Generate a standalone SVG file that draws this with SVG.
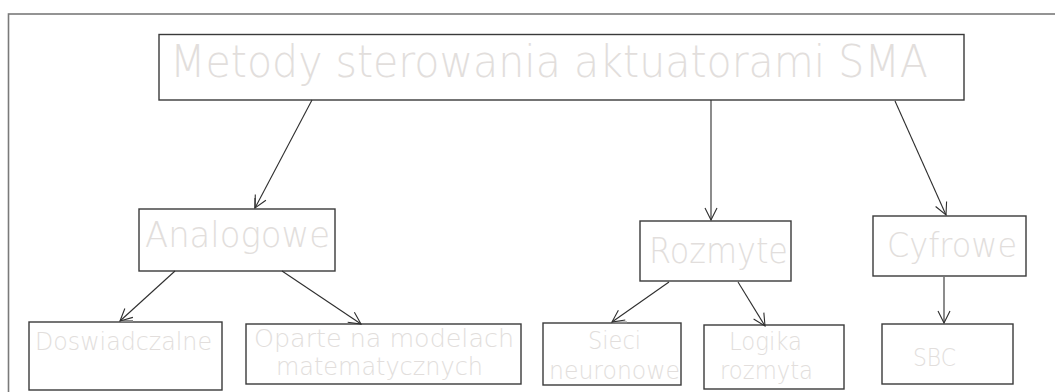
<svg xmlns="http://www.w3.org/2000/svg" width="1055" height="392" viewBox="0 0 1055 392">
<style>
.frame{fill:none;stroke:#7a7a7a;stroke-width:1.6}
.box{fill:#ffffff;stroke:#3a3a3a;stroke-width:1.4}
.t{font-family:"DejaVu Sans","Liberation Sans",sans-serif;font-weight:300;fill:#e2dedc}
.c{fill:none;stroke:#2e2e2e;stroke-width:1.1}
.tick{stroke:#8a8a8a;stroke-width:2}
</style>
<defs>
<marker id="arr" viewBox="0 0 14 14" refX="13" refY="7" markerWidth="14" markerHeight="14" markerUnits="userSpaceOnUse" orient="auto">
<path d="M1,1 L13,7 L1,13" fill="none" stroke="#2e2e2e" stroke-width="1.1"/>
</marker>
</defs>
<rect class="frame" x="8.5" y="14" width="1060" height="400"/>
<g id="n-main">
<rect class="box" x="159" y="34.5" width="805" height="65.5"/>
<text class="t" x="170" y="77" font-size="44" textLength="758" lengthAdjust="spacingAndGlyphs">Metody sterowania aktuatorami SMA</text>
</g>
<g id="n-analogowe">
<rect class="box" x="139" y="209" width="196" height="62"/>
<text class="t" x="145" y="247" font-size="35" textLength="185" lengthAdjust="spacingAndGlyphs">Analogowe</text>
</g>
<g id="n-rozmyte">
<rect class="box" x="640" y="221" width="151" height="60"/>
<text class="t" x="649" y="263" font-size="36" textLength="139" lengthAdjust="spacingAndGlyphs">Rozmyte</text>
</g>
<g id="n-cyfrowe">
<rect class="box" x="873" y="216" width="153" height="60"/>
<text class="t" x="887" y="257" font-size="34" textLength="130" lengthAdjust="spacingAndGlyphs">Cyfrowe</text>
</g>
<g id="n-dosw">
<rect class="box" x="29" y="322" width="193" height="68"/>
<text class="t" x="35" y="350" font-size="24" textLength="177" lengthAdjust="spacingAndGlyphs">Doswiadczalne</text>
</g>
<g id="n-oparte">
<rect class="box" x="246" y="324" width="275" height="60"/>
<text class="t" x="254" y="347" font-size="24" textLength="260" lengthAdjust="spacingAndGlyphs">Oparte na modelach</text>
<text class="t" x="276" y="375" font-size="24" textLength="207" lengthAdjust="spacingAndGlyphs">matematycznych</text>
</g>
<g id="n-sieci">
<rect class="box" x="543" y="323" width="138" height="62"/>
<text class="t" x="588" y="349" font-size="24" textLength="53" lengthAdjust="spacingAndGlyphs">Sieci</text>
<text class="t" x="549" y="379" font-size="24" textLength="131" lengthAdjust="spacingAndGlyphs">neuronowe</text>
</g>
<g id="n-logika">
<rect class="box" x="704" y="325" width="140" height="64"/>
<text class="t" x="729" y="350" font-size="24" textLength="73" lengthAdjust="spacingAndGlyphs">Logika</text>
<text class="t" x="720" y="379" font-size="24" textLength="93" lengthAdjust="spacingAndGlyphs">rozmyta</text>
</g>
<g id="n-sbc">
<rect class="box" x="882" y="324" width="131" height="60"/>
<text class="t" x="913" y="366" font-size="24" textLength="43" lengthAdjust="spacingAndGlyphs">SBC</text>
</g>
<g id="connectors">
<line class="tick" x1="255" y1="198" x2="255" y2="208"/>
<line class="tick" x1="120" y1="321" x2="133" y2="321"/>
<line class="tick" x1="612" y1="322.5" x2="627" y2="322.5"/>
<line class="c" x1="312" y1="100" x2="255" y2="208" marker-end="url(#arr)"/>
<line class="c" x1="711" y1="100" x2="711" y2="220" marker-end="url(#arr)"/>
<line class="c" x1="895" y1="101" x2="946" y2="215" marker-end="url(#arr)"/>
<line class="c" x1="175" y1="271" x2="120" y2="321" marker-end="url(#arr)"/>
<line class="c" x1="282" y1="271" x2="361" y2="324" marker-end="url(#arr)"/>
<line class="c" x1="669" y1="282" x2="612" y2="322" marker-end="url(#arr)"/>
<line class="c" x1="738" y1="282" x2="765" y2="326" marker-end="url(#arr)"/>
<line class="c" x1="944" y1="277" x2="944" y2="323" marker-end="url(#arr)"/>
</g>
</svg>
